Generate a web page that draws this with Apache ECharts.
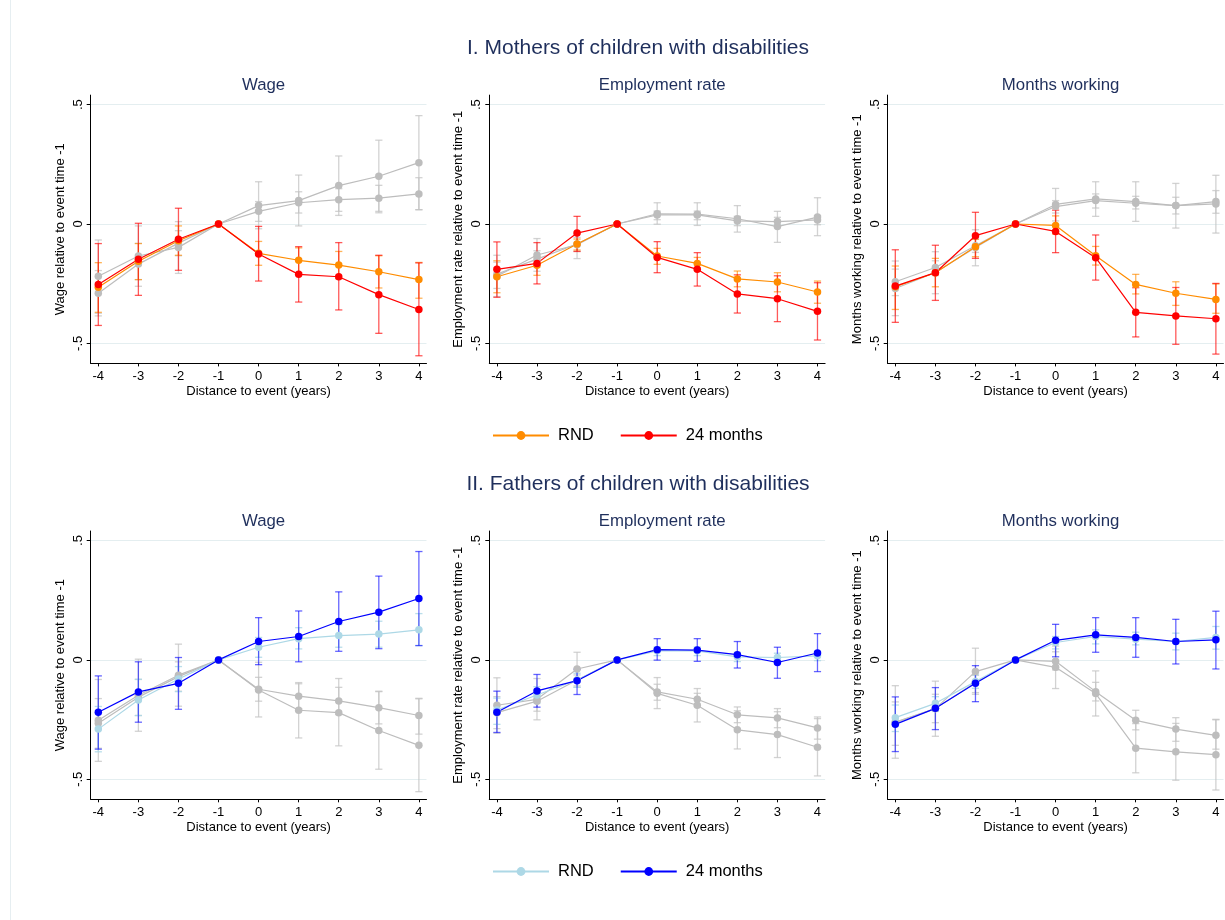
<!DOCTYPE html>
<html>
<head>
<meta charset="utf-8">
<script src="https://cdn.jsdelivr.net/npm/echarts@6/dist/echarts.min.js"></script>
<style>html,body{margin:0;padding:0;background:#fff;}#chart{width:1225px;height:920px;}</style>
</head>
<body>
<div id="chart"></div>
<script>
// ---------- DATA ----------
const years = [-4, -3, -2, -1, 0, 1, 2, 3, 4];
const xTicks = [-4, -3, -2, -1, 0, 1, 2, 3, 4];
const yTicks = [-0.5, 0, 0.5];
const rowTitles = ['I. Mothers of children with disabilities', 'II. Fathers of children with disabilities'];
const panelTitles = ['Wage', 'Employment rate', 'Months working'];
const yAxisNames = ['Wage relative to event time -1', 'Employment rate relative to event time -1', 'Months working relative to event time -1'];
const xAxisName = 'Distance to event (years)';
const legendNames = ['RND', '24 months'];

// Mothers – Wage
const motherWageRND   = [-0.265, -0.156, -0.070, 0, -0.123, -0.152, -0.172, -0.200, -0.233];
const motherWageRNDLo = [-0.370, -0.233, -0.131, 0, -0.173, -0.205, -0.229, -0.268, -0.311];
const motherWageRNDHi = [-0.162, -0.082, -0.008, 0, -0.073, -0.100, -0.115, -0.133, -0.161];
const motherWage24    = [-0.253, -0.148, -0.064, 0, -0.126, -0.211, -0.221, -0.296, -0.358];
const motherWage24Lo  = [-0.425, -0.299, -0.194, 0, -0.239, -0.327, -0.360, -0.458, -0.552];
const motherWage24Hi  = [-0.082,  0.003,  0.066, 0, -0.010, -0.095, -0.078, -0.131, -0.163];
// Fathers – Wage
const fatherWageRND   = [-0.290, -0.168, -0.080, 0, 0.053, 0.089, 0.102, 0.108, 0.126];
const fatherWageRNDLo = [-0.385, -0.233, -0.133, 0, 0.011, 0.046, 0.053, 0.053, 0.060];
const fatherWageRNDHi = [-0.195, -0.081, -0.028, 0, 0.094, 0.135, 0.148, 0.162, 0.194];
const fatherWage24    = [-0.219, -0.134, -0.098, 0, 0.077, 0.098, 0.161, 0.200, 0.257];
const fatherWage24Lo  = [-0.374, -0.261, -0.207, 0, -0.020, -0.008, 0.036, 0.047, 0.060];
const fatherWage24Hi  = [-0.067, -0.008, 0.010, 0, 0.177, 0.205, 0.285, 0.351, 0.454];

// Mothers – Employment rate
const motherEmpRND   = [-0.221, -0.173, -0.084, 0, -0.134, -0.165, -0.230, -0.243, -0.285];
const motherEmpRNDLo = [-0.288, -0.215, -0.109, 0, -0.169, -0.193, -0.263, -0.284, -0.332];
const motherEmpRNDHi = [-0.154, -0.137, -0.063, 0, -0.102, -0.140, -0.197, -0.204, -0.239];
const motherEmp24    = [-0.190, -0.165, -0.038, 0, -0.140, -0.190, -0.293, -0.313, -0.366];
const motherEmp24Lo  = [-0.307, -0.251, -0.115, 0, -0.204, -0.260, -0.373, -0.409, -0.486];
const motherEmp24Hi  = [-0.075, -0.078, 0.032, 0, -0.074, -0.120, -0.213, -0.217, -0.246];
// Fathers – Employment rate
const fatherEmpRND   = [-0.210, -0.147, -0.084, 0, 0.038, 0.038, 0.013, 0.010, 0.017];
const fatherEmpRNDLo = [-0.270, -0.180, -0.115, 0, 0.018, 0.018, -0.007, -0.011, -0.003];
const fatherEmpRNDHi = [-0.160, -0.112, -0.056, 0, 0.054, 0.054, 0.032, 0.028, 0.035];
const fatherEmp24    = [-0.219, -0.130, -0.087, 0, 0.043, 0.041, 0.022, -0.011, 0.029];
const fatherEmp24Lo  = [-0.304, -0.198, -0.145, 0, -0.001, -0.006, -0.034, -0.077, -0.049];
const fatherEmp24Hi  = [-0.131, -0.061, -0.039, 0, 0.089, 0.089, 0.077, 0.053, 0.110];

// Mothers – Months working
const motherMonRND   = [-0.263, -0.204, -0.095, 0, -0.006, -0.133, -0.253, -0.290, -0.316];
const motherMonRNDLo = [-0.358, -0.263, -0.137, 0, -0.042, -0.172, -0.293, -0.341, -0.374];
const motherMonRNDHi = [-0.176, -0.144, -0.064, 0, 0.034, -0.094, -0.211, -0.242, -0.251];
const motherMon24    = [-0.260, -0.204, -0.049, 0, -0.031, -0.141, -0.370, -0.385, -0.397];
const motherMon24Lo  = [-0.412, -0.320, -0.144, 0, -0.120, -0.235, -0.473, -0.504, -0.545];
const motherMon24Hi  = [-0.108, -0.089, 0.049, 0, 0.058, -0.046, -0.267, -0.266, -0.249];
// Fathers – Months working
const fatherMonRND   = [-0.242, -0.182, -0.091, 0, 0.073, 0.098, 0.087, 0.077, 0.094];
const fatherMonRNDLo = [-0.300, -0.216, -0.119, 0, 0.046, 0.067, 0.063, 0.042, 0.045];
const fatherMonRNDHi = [-0.189, -0.154, -0.063, 0, 0.098, 0.126, 0.116, 0.112, 0.140];
const fatherMon24    = [-0.270, -0.203, -0.098, 0, 0.082, 0.105, 0.094, 0.077, 0.084];
const fatherMon24Lo  = [-0.384, -0.292, -0.175, 0, 0.013, 0.032, 0.011, -0.017, -0.038];
const fatherMon24Hi  = [-0.155, -0.116, -0.024, 0, 0.149, 0.177, 0.177, 0.170, 0.204];

// ---------- STYLE / LAYOUT ----------
const FONT = '"Liberation Sans", Arial, Helvetica, sans-serif';
const TITLE_COLOR = '#1f2f5c';
const C = {
  mRND: '#ff8c00', m24: '#ff0000',
  fRND: '#add8e6', f24: '#0000ff',
  grey: '#bdbdbd'
};
const BAR = {
  mRND: 'rgba(255,140,0,0.65)', m24: 'rgba(255,0,0,0.65)',
  fRND: 'rgba(173,216,230,0.85)', f24: 'rgba(0,0,255,0.6)',
  grey: 'rgba(195,195,195,0.75)'
};
const gridLefts = [90.7, 489.3, 887.7];
const gridWidth = 335.8;
const gridTops = [95.1, 531];
const gridHeight = 268.3;

const outcomeData = [
  { m: { rnd: [motherWageRND, motherWageRNDLo, motherWageRNDHi], t24: [motherWage24, motherWage24Lo, motherWage24Hi] },
    f: { rnd: [fatherWageRND, fatherWageRNDLo, fatherWageRNDHi], t24: [fatherWage24, fatherWage24Lo, fatherWage24Hi] } },
  { m: { rnd: [motherEmpRND, motherEmpRNDLo, motherEmpRNDHi], t24: [motherEmp24, motherEmp24Lo, motherEmp24Hi] },
    f: { rnd: [fatherEmpRND, fatherEmpRNDLo, fatherEmpRNDHi], t24: [fatherEmp24, fatherEmp24Lo, fatherEmp24Hi] } },
  { m: { rnd: [motherMonRND, motherMonRNDLo, motherMonRNDHi], t24: [motherMon24, motherMon24Lo, motherMon24Hi] },
    f: { rnd: [fatherMonRND, fatherMonRNDLo, fatherMonRNDHi], t24: [fatherMon24, fatherMon24Lo, fatherMon24Hi] } }
];

const grids = [], xAxes = [], yAxes = [], series = [], titles = [];

function errSeries(idx, lo, hi, color) {
  return {
    type: 'custom', xAxisIndex: idx, yAxisIndex: idx, silent: true,
    data: years.map((x, k) => [x, lo[k], hi[k]]),
    encode: { x: 0, y: [1, 2] },
    renderItem: function (params, api) {
      const x = api.value(0), l = api.value(1), h = api.value(2);
      if (l === h) return { type: 'group', children: [] };
      const p1 = api.coord([x, h]), p2 = api.coord([x, l]);
      const w = 3.6;
      const st = { stroke: color, lineWidth: 1.3, fill: null };
      return { type: 'group', children: [
        { type: 'line', shape: { x1: p1[0], y1: p1[1], x2: p2[0], y2: p2[1] }, style: st },
        { type: 'line', shape: { x1: p1[0] - w, y1: p1[1], x2: p1[0] + w, y2: p1[1] }, style: st },
        { type: 'line', shape: { x1: p2[0] - w, y1: p2[1], x2: p2[0] + w, y2: p2[1] }, style: st }
      ] };
    }
  };
}
function lineSeries(idx, name, vals, color) {
  return {
    type: 'line', name: name, xAxisIndex: idx, yAxisIndex: idx,
    data: years.map((x, k) => [x, vals[k]]),
    symbol: 'circle', symbolSize: 7.5, showSymbol: true,
    lineStyle: { color: color, width: 1.2 },
    itemStyle: { color: color },
    emphasis: { disabled: true }
  };
}

for (let r = 0; r < 2; r++) {
  titles.push({ text: rowTitles[r], left: 633, top: gridTops[r] - 62, textAlign: 'center',
    textStyle: { fontFamily: FONT, fontSize: 21, fontWeight: 'normal', color: TITLE_COLOR } });
  for (let c = 0; c < 3; c++) {
    const idx = r * 3 + c;
    grids.push({ left: gridLefts[c], top: gridTops[r], width: gridWidth, height: gridHeight, containLabel: false });
    titles.push({ text: panelTitles[c], left: gridLefts[c] + gridWidth / 2, top: gridTops[r] - 23, textAlign: 'center',
      textStyle: { fontFamily: FONT, fontSize: 16.8, fontWeight: 'normal', color: TITLE_COLOR } });
    xAxes.push({
      type: 'value', gridIndex: idx, min: -4.19, max: 4.19,
      name: xAxisName, nameLocation: 'middle', nameGap: 22,
      nameTextStyle: { fontFamily: FONT, fontSize: 13, color: '#000' },
      axisLine: { show: true, onZero: false, lineStyle: { color: '#000', width: 1 } },
      axisTick: { show: true, length: 3, customValues: xTicks, lineStyle: { color: '#000' } },
      axisLabel: { customValues: xTicks, margin: 7, fontFamily: FONT, fontSize: 13, color: '#000', formatter: v => String(v) },
      splitLine: { show: false }
    });
    yAxes.push({
      type: 'value', gridIndex: idx, min: -0.584, max: 0.54,
      name: yAxisNames[c], nameLocation: 'middle', nameGap: 24,
      nameTextStyle: { fontFamily: FONT, fontSize: 13, color: '#000' },
      axisLine: { show: true, onZero: false, lineStyle: { color: '#000', width: 1 } },
      axisTick: { show: true, length: 4, customValues: yTicks, lineStyle: { color: '#000' } },
      axisLabel: { customValues: yTicks, rotate: 90, margin: 6, fontFamily: FONT, fontSize: 13, color: '#000',
        formatter: v => (v === 0 ? '0' : String(v).replace('0.', '.')) },
      splitLine: { show: true, lineStyle: { color: '#e4eef0', width: 1 } }
    });
    const d = outcomeData[c];
    if (r === 0) {
      // fathers in grey behind, mothers in colour
      series.push(errSeries(idx, d.f.t24[1], d.f.t24[2], BAR.grey));
      series.push(lineSeries(idx, 'grey-f24-' + idx, d.f.t24[0], C.grey));
      series.push(errSeries(idx, d.f.rnd[1], d.f.rnd[2], BAR.grey));
      series.push(lineSeries(idx, 'grey-fRND-' + idx, d.f.rnd[0], C.grey));
      series.push(errSeries(idx, d.m.rnd[1], d.m.rnd[2], BAR.mRND));
      series.push(lineSeries(idx, 'RND', d.m.rnd[0], C.mRND));
      series.push(errSeries(idx, d.m.t24[1], d.m.t24[2], BAR.m24));
      series.push(lineSeries(idx, '24 months', d.m.t24[0], C.m24));
    } else {
      series.push(errSeries(idx, d.m.t24[1], d.m.t24[2], BAR.grey));
      series.push(lineSeries(idx, 'grey-m24-' + idx, d.m.t24[0], C.grey));
      series.push(errSeries(idx, d.m.rnd[1], d.m.rnd[2], BAR.grey));
      series.push(lineSeries(idx, 'grey-mRND-' + idx, d.m.rnd[0], C.grey));
      series.push(errSeries(idx, d.f.rnd[1], d.f.rnd[2], BAR.fRND));
      series.push(lineSeries(idx, 'RND ', d.f.rnd[0], C.fRND));
      series.push(errSeries(idx, d.f.t24[1], d.f.t24[2], BAR.f24));
      series.push(lineSeries(idx, '24 months ', d.f.t24[0], C.f24));
    }
  }
}

const legendCommon = {
  orient: 'horizontal', left: 492, itemWidth: 56, itemHeight: 11, itemGap: 26, padding: 0,
  selectedMode: false,
  textStyle: { fontFamily: FONT, fontSize: 16.5, color: '#000', padding: [0, 0, 0, 4] },
  formatter: n => n.trim()
};

const option = {
  animation: false,
  backgroundColor: '#fff',
  title: titles,
  grid: grids,
  xAxis: xAxes,
  yAxis: yAxes,
  legend: [
    Object.assign({}, legendCommon, { top: 427, data: legendNames.map(n => n) }),
    Object.assign({}, legendCommon, { top: 863, data: legendNames.map(n => n + ' ') })
  ],
  graphic: [
    { type: 'line', shape: { x1: 10.5, y1: 0, x2: 10.5, y2: 920 }, style: { stroke: '#e6eef1', lineWidth: 1 }, silent: true }
  ],
  series: series
};

const chart = echarts.init(document.getElementById('chart'), null, { renderer: 'canvas' });
chart.setOption(option);
</script>
</body>
</html>
